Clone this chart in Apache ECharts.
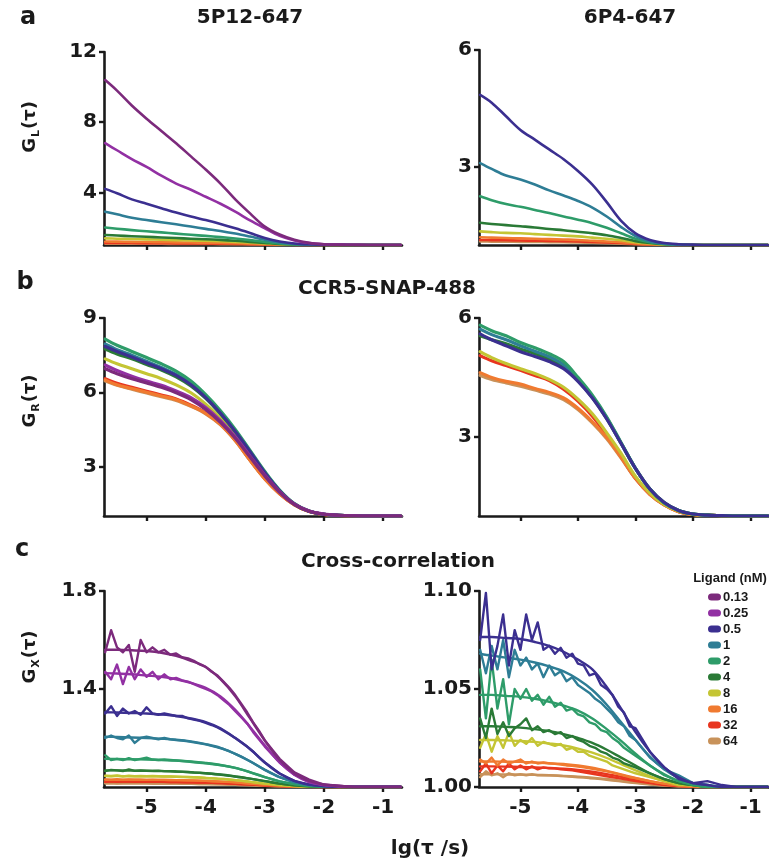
<!DOCTYPE html>
<html><head><meta charset="utf-8">
<script src="https://cdn.jsdelivr.net/npm/echarts@6/dist/echarts.min.js"></script>
<style>html,body{margin:0;padding:0;background:#fff}#c{width:769px;height:865px}</style>
</head><body><div id="c"></div>
<script>
// ---------- DATA ----------
const ligands = ['0.13','0.25','0.5','1','2','4','8','16','32','64'];
const colors = ['#7C2A7C','#9230A3','#3B2F90','#2E7D95','#2E9C69','#2A7A36','#C4C534','#F07A30','#E8351F','#C8925A'];
const xTicks = [-5,-4,-3,-2,-1];
const xs = [-5.7,-5.5,-5.25,-5.0,-4.75,-4.5,-4.25,-4.0,-3.75,-3.5,-3.25,-3.0,-2.75,-2.5,-2.25,-2.0,-1.75,-1.5,-1.25,-1.0,-0.7];
const xf = [-5.7,-5.6,-5.5,-5.4,-5.3,-5.2,-5.1,-5.0,-4.9,-4.8,-4.7,-4.6,-4.5,-4.4,-4.3,-4.2,-4.1,-4.0,-3.9,-3.8,-3.7,-3.6,-3.5,-3.4,-3.3,-3.2,-3.1,-3.0,-2.75,-2.5,-2.25,-2.0,-1.75,-1.5,-1.25,-1.0,-0.7];

// a: 5P12-647 G_L
const aL013 = [10.4,9.8,8.95,8.2,7.5,6.8,6.05,5.3,4.5,3.6,2.8,2.05,1.6,1.3,1.12,1.04,1.02,1.01,1.0,1.0,1.0];
const aL025 = [6.8,6.4,5.9,5.45,4.95,4.5,4.15,3.75,3.35,2.9,2.4,1.95,1.52,1.26,1.11,1.04,1.02,1.01,1.0,1.0,1.0];
const aL05 = [4.2,3.95,3.6,3.35,3.1,2.85,2.62,2.42,2.2,1.95,1.68,1.4,1.2,1.09,1.04,1.02,1.01,1.0,1.0,1.0,1.0];
const aL1 = [2.9,2.75,2.55,2.42,2.3,2.18,2.05,1.92,1.8,1.65,1.48,1.3,1.15,1.06,1.03,1.01,1.0,1.0,1.0,1.0,1.0];
const aL2 = [2.0,1.93,1.85,1.78,1.72,1.65,1.58,1.52,1.45,1.37,1.28,1.18,1.09,1.04,1.02,1.01,1.0,1.0,1.0,1.0,1.0];
const aL4 = [1.57,1.54,1.5,1.47,1.43,1.4,1.36,1.33,1.29,1.24,1.18,1.12,1.06,1.03,1.01,1.0,1.0,1.0,1.0,1.0,1.0];
const aL8 = [1.38,1.36,1.34,1.32,1.3,1.28,1.26,1.24,1.21,1.18,1.14,1.09,1.05,1.02,1.01,1.0,1.0,1.0,1.0,1.0,1.0];
const aL16 = [1.2,1.19,1.18,1.17,1.16,1.15,1.14,1.13,1.11,1.1,1.08,1.05,1.03,1.01,1.0,1.0,1.0,1.0,1.0,1.0,1.0];
const aL32 = [1.12,1.115,1.11,1.105,1.1,1.095,1.09,1.085,1.075,1.065,1.05,1.035,1.02,1.01,1.0,1.0,1.0,1.0,1.0,1.0,1.0];
const aL64 = [1.08,1.078,1.075,1.072,1.068,1.065,1.062,1.058,1.052,1.045,1.035,1.025,1.014,1.007,1.0,1.0,1.0,1.0,1.0,1.0,1.0];
// a: 6P4-647 G_L
const aR05 = [4.85,4.65,4.3,3.95,3.7,3.45,3.2,2.9,2.55,2.1,1.62,1.3,1.13,1.05,1.02,1.01,1.0,1.0,1.0,1.0,1.0];
const aR1 = [3.1,2.95,2.78,2.68,2.55,2.4,2.27,2.13,1.96,1.73,1.46,1.23,1.09,1.03,1.01,1.0,1.0,1.0,1.0,1.0,1.0];
const aR2 = [2.25,2.15,2.05,1.98,1.9,1.82,1.73,1.65,1.56,1.44,1.3,1.16,1.07,1.03,1.01,1.0,1.0,1.0,1.0,1.0,1.0];
const aR4 = [1.57,1.54,1.51,1.48,1.45,1.41,1.38,1.34,1.3,1.25,1.18,1.1,1.05,1.02,1.01,1.0,1.0,1.0,1.0,1.0,1.0];
const aR8 = [1.35,1.33,1.31,1.3,1.28,1.26,1.24,1.22,1.19,1.16,1.12,1.07,1.04,1.01,1.0,1.0,1.0,1.0,1.0,1.0,1.0];
const aR16 = [1.2,1.19,1.18,1.17,1.16,1.15,1.14,1.13,1.11,1.09,1.07,1.04,1.02,1.01,1.0,1.0,1.0,1.0,1.0,1.0,1.0];
const aR32 = [1.13,1.125,1.12,1.115,1.11,1.105,1.1,1.09,1.08,1.065,1.05,1.03,1.015,1.006,1.0,1.0,1.0,1.0,1.0,1.0,1.0];
const aR64 = [1.09,1.087,1.084,1.08,1.077,1.073,1.069,1.064,1.057,1.048,1.036,1.022,1.011,1.004,1.0,1.0,1.0,1.0,1.0,1.0,1.0];
// b: CCR5-SNAP-488 G_R (left, 5P12)
const bL013 = [6.95,6.75,6.55,6.38,6.2,5.98,5.7,5.3,4.78,4.14,3.38,2.62,1.96,1.47,1.19,1.07,1.03,1.01,1.0,1.0,1.0];
const bL025 = [7.1,6.88,6.65,6.45,6.28,6.05,5.78,5.38,4.85,4.2,3.42,2.65,1.98,1.48,1.2,1.08,1.03,1.01,1.0,1.0,1.0];
const bL05 = [7.85,7.65,7.42,7.18,6.95,6.68,6.3,5.78,5.15,4.42,3.6,2.75,2.02,1.48,1.19,1.07,1.03,1.01,1.0,1.0,1.0];
const bL1 = [7.95,7.72,7.5,7.25,7.0,6.72,6.35,5.82,5.18,4.45,3.6,2.75,2.02,1.48,1.19,1.07,1.03,1.01,1.0,1.0,1.0];
const bL2 = [8.15,7.9,7.65,7.4,7.15,6.85,6.45,5.9,5.25,4.5,3.65,2.8,2.05,1.5,1.2,1.07,1.03,1.01,1.0,1.0,1.0];
const bL4 = [7.75,7.55,7.35,7.12,6.9,6.62,6.25,5.75,5.12,4.4,3.58,2.74,2.02,1.48,1.19,1.07,1.03,1.01,1.0,1.0,1.0];
const bL8 = [7.35,7.15,6.95,6.75,6.55,6.3,5.98,5.52,4.95,4.28,3.48,2.68,1.99,1.47,1.19,1.07,1.03,1.01,1.0,1.0,1.0];
const bL16 = [6.5,6.3,6.15,6.0,5.85,5.7,5.45,5.15,4.7,4.05,3.25,2.5,1.9,1.45,1.18,1.06,1.02,1.01,1.0,1.0,1.0];
const bL32 = [6.55,6.36,6.2,6.04,5.89,5.73,5.48,5.17,4.72,4.07,3.27,2.52,1.91,1.46,1.18,1.06,1.02,1.01,1.0,1.0,1.0];
const bL64 = [6.45,6.28,6.12,5.97,5.82,5.67,5.43,5.13,4.68,4.04,3.25,2.5,1.9,1.45,1.18,1.06,1.02,1.01,1.0,1.0,1.0];
// b: right (6P4)
const bR05 = [5.6,5.45,5.3,5.15,5.03,4.9,4.72,4.4,3.98,3.45,2.83,2.2,1.68,1.34,1.14,1.05,1.02,1.01,1.0,1.0,1.0];
const bR1 = [5.72,5.58,5.45,5.3,5.16,5.02,4.82,4.46,4.02,3.48,2.84,2.2,1.68,1.33,1.14,1.05,1.02,1.01,1.0,1.0,1.0];
const bR2 = [5.82,5.68,5.55,5.38,5.25,5.1,4.9,4.5,4.05,3.5,2.85,2.2,1.68,1.33,1.14,1.05,1.02,1.01,1.0,1.0,1.0];
const bR4 = [5.55,5.45,5.35,5.22,5.1,4.96,4.77,4.42,3.99,3.46,2.83,2.2,1.68,1.34,1.14,1.05,1.02,1.01,1.0,1.0,1.0];
const bR8 = [5.15,5.0,4.85,4.72,4.6,4.45,4.25,3.95,3.58,3.1,2.58,2.0,1.58,1.29,1.12,1.04,1.02,1.01,1.0,1.0,1.0];
const bR16 = [4.62,4.5,4.4,4.33,4.22,4.12,3.98,3.72,3.38,2.98,2.48,1.95,1.55,1.28,1.11,1.04,1.02,1.01,1.0,1.0,1.0];
const bR32 = [5.05,4.92,4.8,4.68,4.55,4.42,4.2,3.9,3.52,3.05,2.5,1.95,1.55,1.28,1.11,1.04,1.02,1.01,1.0,1.0,1.0];
const bR64 = [4.55,4.45,4.36,4.28,4.18,4.08,3.94,3.69,3.35,2.95,2.46,1.94,1.55,1.28,1.11,1.04,1.02,1.01,1.0,1.0,1.0];
// c: cross-correlation, left measured (on xf)
const cL013 = [1.55,1.64,1.57,1.55,1.58,1.47,1.6,1.55,1.57,1.55,1.56,1.54,1.545,1.53,1.525,1.515,1.5,1.49,1.47,1.455,1.43,1.405,1.375,1.34,1.305,1.265,1.23,1.19,1.115,1.06,1.03,1.01,1.005,1.0,1.0,1.0,1.0];
const cL025 = [1.47,1.44,1.5,1.42,1.49,1.44,1.48,1.45,1.47,1.44,1.46,1.44,1.445,1.435,1.43,1.42,1.41,1.4,1.39,1.375,1.355,1.335,1.31,1.285,1.26,1.225,1.195,1.165,1.1,1.05,1.02,1.008,1.003,1.0,1.0,1.0,1.0];
const cL05 = [1.3,1.33,1.29,1.32,1.3,1.31,1.295,1.325,1.3,1.295,1.3,1.295,1.29,1.29,1.28,1.275,1.27,1.262,1.253,1.243,1.23,1.215,1.2,1.183,1.165,1.145,1.122,1.1,1.055,1.025,1.01,1.004,1.001,1.0,1.0,1.0,1.0];
const cL1 = [1.2,1.21,1.2,1.195,1.21,1.18,1.2,1.205,1.2,1.195,1.2,1.195,1.192,1.19,1.186,1.182,1.178,1.174,1.168,1.162,1.155,1.146,1.135,1.124,1.111,1.098,1.084,1.07,1.04,1.02,1.008,1.003,1.001,1.0,1.0,1.0,1.0];
const cL2 = [1.13,1.11,1.115,1.11,1.118,1.11,1.115,1.12,1.112,1.11,1.112,1.11,1.108,1.106,1.104,1.101,1.099,1.097,1.094,1.091,1.087,1.083,1.078,1.072,1.065,1.057,1.049,1.04,1.023,1.012,1.005,1.002,1.001,1.0,1.0,1.0,1.0];
const cL4 = [1.065,1.07,1.068,1.065,1.072,1.066,1.068,1.067,1.066,1.067,1.065,1.065,1.063,1.062,1.061,1.059,1.058,1.056,1.054,1.052,1.05,1.047,1.043,1.04,1.036,1.032,1.028,1.024,1.014,1.007,1.003,1.001,1.0,1.0,1.0,1.0,1.0];
const cL8 = [1.046,1.044,1.047,1.043,1.046,1.044,1.045,1.044,1.045,1.044,1.043,1.043,1.042,1.041,1.041,1.04,1.039,1.037,1.036,1.034,1.033,1.031,1.028,1.026,1.023,1.02,1.017,1.014,1.008,1.004,1.002,1.001,1.0,1.0,1.0,1.0,1.0];
const cL16 = [1.031,1.029,1.032,1.029,1.031,1.03,1.03,1.029,1.03,1.029,1.029,1.028,1.028,1.028,1.027,1.027,1.026,1.025,1.024,1.023,1.022,1.021,1.019,1.017,1.015,1.013,1.012,1.01,1.006,1.003,1.001,1.0,1.0,1.0,1.0,1.0,1.0];
const cL32 = [1.021,1.023,1.021,1.022,1.022,1.021,1.022,1.021,1.021,1.021,1.021,1.02,1.02,1.02,1.019,1.019,1.018,1.018,1.017,1.016,1.016,1.015,1.013,1.012,1.011,1.01,1.008,1.007,1.004,1.002,1.001,1.0,1.0,1.0,1.0,1.0,1.0];
const cL64 = [1.015,1.016,1.014,1.015,1.015,1.015,1.015,1.015,1.014,1.015,1.014,1.014,1.014,1.013,1.013,1.013,1.012,1.012,1.011,1.011,1.011,1.01,1.009,1.008,1.008,1.007,1.006,1.005,1.003,1.001,1.0,1.0,1.0,1.0,1.0,1.0,1.0];
// c: left fits (on xs)
const fL013 = [1.56,1.56,1.558,1.555,1.548,1.535,1.515,1.49,1.44,1.37,1.28,1.19,1.11,1.055,1.025,1.01,1.005,1.0,1.0,1.0,1.0];
const fL025 = [1.465,1.463,1.46,1.455,1.45,1.44,1.425,1.405,1.37,1.315,1.245,1.17,1.1,1.05,1.02,1.008,1.003,1.0,1.0,1.0,1.0];
const fL05 = [1.305,1.304,1.302,1.3,1.296,1.29,1.28,1.265,1.24,1.2,1.155,1.1,1.055,1.025,1.01,1.004,1.001,1.0,1.0,1.0,1.0];
const fL1 = [1.205,1.204,1.202,1.2,1.197,1.193,1.186,1.175,1.16,1.135,1.105,1.07,1.04,1.02,1.008,1.003,1.001,1.0,1.0,1.0,1.0];
const fL2 = [1.115,1.114,1.113,1.112,1.11,1.108,1.104,1.098,1.09,1.078,1.06,1.04,1.023,1.012,1.005,1.002,1.001,1.0,1.0,1.0,1.0];
const fL4 = [1.068,1.068,1.067,1.066,1.065,1.063,1.06,1.056,1.05,1.043,1.034,1.024,1.014,1.007,1.003,1.001,1.0,1.0,1.0,1.0,1.0];
const fL8 = [1.045,1.045,1.044,1.044,1.043,1.042,1.04,1.037,1.033,1.028,1.021,1.014,1.008,1.004,1.002,1.001,1.0,1.0,1.0,1.0,1.0];
const fL16 = [1.03,1.03,1.03,1.029,1.029,1.028,1.027,1.025,1.022,1.019,1.014,1.01,1.006,1.003,1.001,1.0,1.0,1.0,1.0,1.0,1.0];
const fL32 = [1.022,1.022,1.022,1.021,1.021,1.02,1.019,1.018,1.016,1.013,1.01,1.007,1.004,1.002,1.001,1.0,1.0,1.0,1.0,1.0,1.0];
const fL64 = [1.015,1.015,1.015,1.015,1.014,1.014,1.013,1.012,1.011,1.009,1.007,1.005,1.003,1.001,1.0,1.0,1.0,1.0,1.0,1.0,1.0];
// c: right measured (on xf)
const cR05 = [1.075,1.099,1.06,1.072,1.088,1.062,1.08,1.07,1.088,1.075,1.084,1.07,1.072,1.068,1.071,1.066,1.068,1.063,1.062,1.057,1.058,1.052,1.05,1.047,1.041,1.038,1.031,1.03,1.018,1.01,1.004,1.002,1.003,1.001,1.0,1.0,1.0];
const cR1 = [1.07,1.058,1.072,1.06,1.075,1.056,1.07,1.062,1.066,1.06,1.063,1.056,1.062,1.057,1.059,1.054,1.056,1.052,1.05,1.048,1.045,1.043,1.04,1.037,1.033,1.031,1.026,1.024,1.015,1.009,1.006,1.002,1.001,1.0,1.0,1.0,1.0];
const cR2 = [1.06,1.035,1.065,1.04,1.055,1.032,1.05,1.045,1.05,1.044,1.047,1.042,1.046,1.041,1.043,1.039,1.04,1.037,1.036,1.033,1.032,1.029,1.028,1.025,1.023,1.02,1.018,1.016,1.011,1.006,1.003,1.001,1.0,1.0,1.0,1.0,1.0];
const cR4 = [1.035,1.025,1.04,1.027,1.033,1.026,1.03,1.032,1.035,1.029,1.031,1.028,1.029,1.027,1.028,1.025,1.026,1.024,1.023,1.021,1.02,1.018,1.017,1.015,1.014,1.012,1.011,1.01,1.007,1.004,1.002,1.001,1.0,1.0,1.0,1.0,1.0];
const cR8 = [1.02,1.027,1.018,1.026,1.02,1.028,1.021,1.024,1.022,1.025,1.021,1.023,1.022,1.021,1.022,1.019,1.02,1.018,1.018,1.016,1.015,1.014,1.013,1.011,1.01,1.009,1.008,1.007,1.005,1.003,1.001,1.001,1.0,1.0,1.0,1.0,1.0];
const cR16 = [1.014,1.012,1.015,1.011,1.014,1.012,1.013,1.014,1.012,1.013,1.012,1.0125,1.012,1.0118,1.0115,1.011,1.0108,1.0104,1.01,1.0095,1.009,1.0085,1.008,1.0073,1.0066,1.0058,1.005,1.0045,1.003,1.0017,1.0008,1.0003,1.0,1.0,1.0,1.0,1.0];
const cR32 = [1.008,1.012,1.007,1.011,1.008,1.012,1.009,1.011,1.009,1.0105,1.009,1.01,1.0095,1.0095,1.009,1.0088,1.0085,1.008,1.0075,1.007,1.0065,1.006,1.0055,1.005,1.0045,1.004,1.0035,1.003,1.002,1.001,1.0005,1.0,1.0,1.0,1.0,1.0,1.0];
const cR64 = [1.005,1.008,1.006,1.007,1.005,1.007,1.006,1.0065,1.006,1.0065,1.006,1.006,1.006,1.0058,1.0056,1.0054,1.0052,1.005,1.0048,1.0045,1.0043,1.004,1.0037,1.0033,1.003,1.0027,1.0023,1.002,1.0013,1.0007,1.0003,1.0,1.0,1.0,1.0,1.0,1.0];
// c: right fits (on xs)
const fR05 = [1.0765,1.0765,1.076,1.0755,1.074,1.072,1.069,1.065,1.06,1.051,1.04,1.028,1.018,1.01,1.005,1.002,1.001,1.0,1.0,1.0,1.0];
const fR1 = [1.068,1.067,1.066,1.065,1.0635,1.0615,1.059,1.055,1.0495,1.042,1.033,1.024,1.0155,1.009,1.0045,1.002,1.001,1.0,1.0,1.0,1.0];
const fR2 = [1.047,1.047,1.0465,1.046,1.045,1.0435,1.0415,1.039,1.035,1.0295,1.0235,1.017,1.011,1.0065,1.003,1.0015,1.0,1.0,1.0,1.0,1.0];
const fR4 = [1.031,1.031,1.0307,1.0303,1.0295,1.0285,1.027,1.025,1.0225,1.019,1.015,1.011,1.007,1.004,1.002,1.001,1.0,1.0,1.0,1.0,1.0];
const fR8 = [1.024,1.024,1.0238,1.0235,1.023,1.0222,1.0212,1.0196,1.0175,1.0148,1.0117,1.0085,1.0055,1.003,1.0015,1.0007,1.0,1.0,1.0,1.0,1.0];
const fR16 = [1.013,1.013,1.0129,1.0128,1.0125,1.0122,1.0117,1.011,1.0098,1.0082,1.0064,1.0046,1.003,1.0017,1.0008,1.0003,1.0,1.0,1.0,1.0,1.0];
const fR32 = [1.0105,1.0105,1.0104,1.0102,1.01,1.0097,1.0093,1.0087,1.0078,1.0066,1.0052,1.0037,1.0024,1.0013,1.0006,1.0002,1.0,1.0,1.0,1.0,1.0];
const fR64 = [1.0065,1.0065,1.0064,1.0063,1.0062,1.006,1.0057,1.0053,1.0048,1.0041,1.0032,1.0023,1.0015,1.0008,1.0004,1.0001,1.0,1.0,1.0,1.0,1.0];

// ---------- BUILD ----------
const FONT = '"DejaVu Sans", "Liberation Sans", Arial, sans-serif';
const NARROW = '"Liberation Sans Narrow", "Arial Narrow", "Liberation Sans", Arial, sans-serif';
const INK = '#1a1a1a';
const grids = [
  {left:104, top:52,  width:298, height:193},
  {left:479, top:50,  width:297, height:195},
  {left:104, top:318, width:298, height:198},
  {left:479, top:318, width:297, height:198},
  {left:104, top:591, width:298, height:196},
  {left:479, top:591, width:297, height:196}
];
const yCfg = [
  {min:1, max:12, ticks:[4,8,12], fmt:v=>String(v)},
  {min:1, max:6,  ticks:[3,6], fmt:v=>String(v)},
  {min:1, max:9,  ticks:[3,6,9], fmt:v=>String(v)},
  {min:1, max:6,  ticks:[3,6], fmt:v=>String(v)},
  {min:1, max:1.8, ticks:[1.4,1.8], fmt:v=>v.toFixed(1)},
  {min:1, max:1.1, ticks:[1.0,1.05,1.1], fmt:v=>v.toFixed(2)}
];
const xAxis = grids.map((g,i)=>({
  gridIndex:i, type:'value', min:-5.72, max:-0.68,
  splitLine:{show:false},
  axisLine:{show:true, onZero:false, lineStyle:{color:INK, width:2.6}},
  axisTick:{show:true, customValues:xTicks, length:5, lineStyle:{color:INK, width:2.4}},
  axisLabel:{show:i>=4, customValues:xTicks, margin:11, color:INK, fontSize:20, fontWeight:'bold', fontFamily:FONT,
    formatter:v=>String(v)}
}));
const yAxis = yCfg.map((c,i)=>({
  gridIndex:i, type:'value', min:c.min, max:c.max,
  splitLine:{show:false},
  axisLine:{show:true, onZero:false, lineStyle:{color:INK, width:2.6}},
  axisTick:{show:true, customValues:c.ticks, length:5, lineStyle:{color:INK, width:2.4}},
  axisLabel:{show:true, customValues:c.ticks, margin:7, color:INK, fontSize:20, fontWeight:'bold', fontFamily:FONT,
    formatter:c.fmt}
}));

const series = [];
function add(name, xArr, yArr, gi, smooth, width){
  const ci = ligands.indexOf(name);
  series.push({
    type:'line', name:name, xAxisIndex:gi, yAxisIndex:gi,
    data:xArr.map((x,k)=>[x, yArr[k]]),
    showSymbol:false, symbol:'none', smooth:smooth, animation:false,
    color:colors[ci], itemStyle:{color:colors[ci]},
    lineStyle:{color:colors[ci], width:width, cap:'round', join:'round'}
  });
}
// draw order: high concentration first, low concentration on top
const panelA_L = {'64':aL64,'32':aL32,'16':aL16,'8':aL8,'4':aL4,'2':aL2,'1':aL1,'0.5':aL05,'0.25':aL025,'0.13':aL013};
const panelA_R = {'64':aR64,'32':aR32,'16':aR16,'8':aR8,'4':aR4,'2':aR2,'1':aR1,'0.5':aR05};
const panelB_L = {'64':bL64,'32':bL32,'16':bL16,'8':bL8,'4':bL4,'1':bL1,'2':bL2,'0.5':bL05,'0.25':bL025,'0.13':bL013};
const panelB_R = {'64':bR64,'16':bR16,'32':bR32,'8':bR8,'4':bR4,'1':bR1,'2':bR2,'0.5':bR05};
const panelC_L = {'64':[cL64,fL64],'32':[cL32,fL32],'16':[cL16,fL16],'8':[cL8,fL8],'4':[cL4,fL4],'2':[cL2,fL2],'1':[cL1,fL1],'0.5':[cL05,fL05],'0.25':[cL025,fL025],'0.13':[cL013,fL013]};
const panelC_R = {'64':[cR64,fR64],'32':[cR32,fR32],'16':[cR16,fR16],'8':[cR8,fR8],'4':[cR4,fR4],'2':[cR2,fR2],'1':[cR1,fR1],'0.5':[cR05,fR05]};
const order = ['64','32','16','8','4','2','1','0.5','0.25','0.13'];
const orderB = ['64','32','16','8','4','1','2','0.5','0.25','0.13'];
const SM = 0.35;
order.forEach(n=>{ if(panelA_L[n]) add(n, xs, panelA_L[n], 0, SM, 2.6); });
order.forEach(n=>{ if(panelA_R[n]) add(n, xs, panelA_R[n], 1, SM, 2.6); });
orderB.forEach(n=>{ if(panelB_L[n]) add(n, xs, panelB_L[n], 2, SM, 3.2); });
orderB.forEach(n=>{ if(panelB_R[n]) add(n, xs, panelB_R[n], 3, SM, 3.2); });
order.forEach(n=>{ if(panelC_L[n]){ add(n, xf, panelC_L[n][0], 4, false, 2.4); add(n, xs, panelC_L[n][1], 4, SM, 2.4);} });
order.forEach(n=>{ if(panelC_R[n]){ add(n, xf, panelC_R[n][0], 5, false, 2.4); add(n, xs, panelC_R[n][1], 5, SM, 2.4);} });

const T = (x,y,text,size,extra)=>Object.assign({type:'text', x:x, y:y, silent:true,
  style:{text:text, fill:INK, font:'bold '+size+'px '+FONT, textAlign:'center', textVerticalAlign:'middle'}}, extra||{});
function yTitle(x,y,sub){
  return {type:'text', x:x, y:y, rotation:Math.PI/2, silent:true,
    style:{text:'{g|G}{s|'+sub+'}{g|(τ)}', textAlign:'center', textVerticalAlign:'middle',
      rich:{ g:{fontSize:18, fontWeight:'bold', fontFamily:FONT, fill:INK, lineHeight:24, verticalAlign:'middle'},
             s:{fontSize:11, fontWeight:'bold', fontFamily:FONT, fill:INK, lineHeight:24, verticalAlign:'bottom', padding:[0,1,0,1]} }}};
}
const graphic = [
  T(28,18,'a',24), T(250,18,'5P12-647',20), T(630,18,'6P4-647',20),
  T(25,283,'b',24), T(387,289,'CCR5-SNAP-488',20),
  T(22,550,'c',24), T(398,562,'Cross-correlation',20),
  T(430,849,'lg(τ /s)',20),
  yTitle(30,127,'L'), yTitle(30,401,'R'), yTitle(30,657,'X'),
  {type:'text', x:730, y:578, silent:true, style:{text:'Ligand (nM)', fill:INK, font:'bold 13px '+NARROW, textAlign:'center', textVerticalAlign:'middle'}}
];

const chart = echarts.init(document.getElementById('c'), null, {renderer:'canvas'});
chart.setOption({
  animation:false, backgroundColor:'#fff',
  grid:grids, xAxis:xAxis, yAxis:yAxis, series:series, graphic:graphic,
  legend:{ data:ligands, orient:'vertical', left:703, top:585, itemWidth:13, itemHeight:7, itemGap:2,
    icon:'path://M3.5,0 H9.5 A3.5,3.5 0 0 1 9.5,7 H3.5 A3.5,3.5 0 0 1 3.5,0 Z',
    textStyle:{fontSize:13, fontWeight:'bold', color:INK, fontFamily:NARROW, lineHeight:14, padding:[0,0,0,-3]},
    selectedMode:false }
});
</script></body></html>
